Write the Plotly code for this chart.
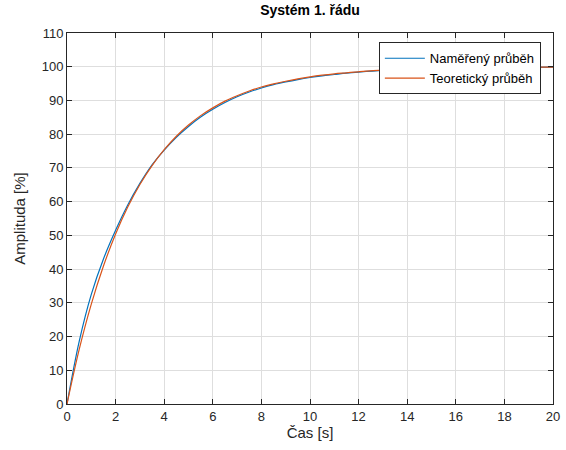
import plotly.graph_objects as go

t = [0, 0.5, 1, 1.5, 2, 2.5, 3, 3.5, 4, 4.5, 5, 5.5, 6, 6.5, 7, 7.5, 8, 8.5, 9, 9.5,
     10, 10.5, 11, 11.5, 12, 13, 14, 15, 16, 17, 18, 19, 20]
namereny = [0, 18.5, 32.5, 43.0, 51.5, 59.0, 65.4, 70.9, 75.3, 79.1, 82.3, 85.1, 87.4,
            89.4, 91.1, 92.5, 93.7, 94.7, 95.5, 96.2, 96.8, 97.3, 97.7, 98.1, 98.4,
            98.9, 99.2, 99.4, 99.6, 99.7, 99.8, 99.8, 99.9]
teoreticky = [0, 16.1, 29.6, 40.9, 50.4, 58.4, 65.1, 70.7, 75.4, 79.4, 82.7, 85.5, 87.8,
              89.8, 91.4, 92.8, 94.0, 94.9, 95.7, 96.4, 97.0, 97.5, 97.9, 98.2, 98.5,
              99.0, 99.3, 99.5, 99.6, 99.7, 99.8, 99.9, 99.9]

x_ticks = list(range(0, 21, 2))
y_ticks = list(range(0, 111, 10))

FONT = "Liberation Sans, Arial, sans-serif"

fig = go.Figure()
fig.add_trace(go.Scatter(x=t, y=namereny, mode="lines", name="Naměřený průběh",
                         line=dict(color="#0072BD", width=1.2, shape="spline")))
fig.add_trace(go.Scatter(x=t, y=teoreticky, mode="lines", name="Teoretický průběh",
                         line=dict(color="#D95319", width=1.2, shape="spline")))

axis_common = dict(
    showline=True, linecolor="#262626", linewidth=1, mirror="ticks",
    ticks="inside", ticklen=5, tickcolor="#262626",
    showgrid=True, gridcolor="#dedede", gridwidth=1, zeroline=False,
    automargin=False,
    tickfont=dict(family=FONT, size=13, color="#262626"),
)

fig.update_xaxes(range=[0, 20], tickvals=x_ticks,
                 title=dict(text="Čas [s]", font=dict(family=FONT, size=15, color="#262626"),
                            standoff=2),
                 **axis_common)
fig.update_yaxes(range=[0, 110], tickvals=y_ticks,
                 title=dict(text="Amplituda [%]", font=dict(family=FONT, size=15, color="#262626"),
                            standoff=12),
                 **axis_common)

fig.update_layout(
    width=566, height=450,
    margin=dict(l=67, r=13, t=33, b=46),
    paper_bgcolor="white", plot_bgcolor="white",
    title=dict(text="<b>Systém 1. řádu</b>", x=0.5, xanchor="center", xref="paper",
               y=1, yref="container", yanchor="top", pad=dict(t=5),
               font=dict(family=FONT, size=14, color="#000000")),
    legend=dict(x=0.975, y=0.975, xanchor="right", yanchor="top",
                bgcolor="white", bordercolor="#262626", borderwidth=1,
                font=dict(family=FONT, size=13, color="#000000"),
                tracegroupgap=0, itemwidth=40),
    showlegend=True,
)

fig.write_html("out.html")
